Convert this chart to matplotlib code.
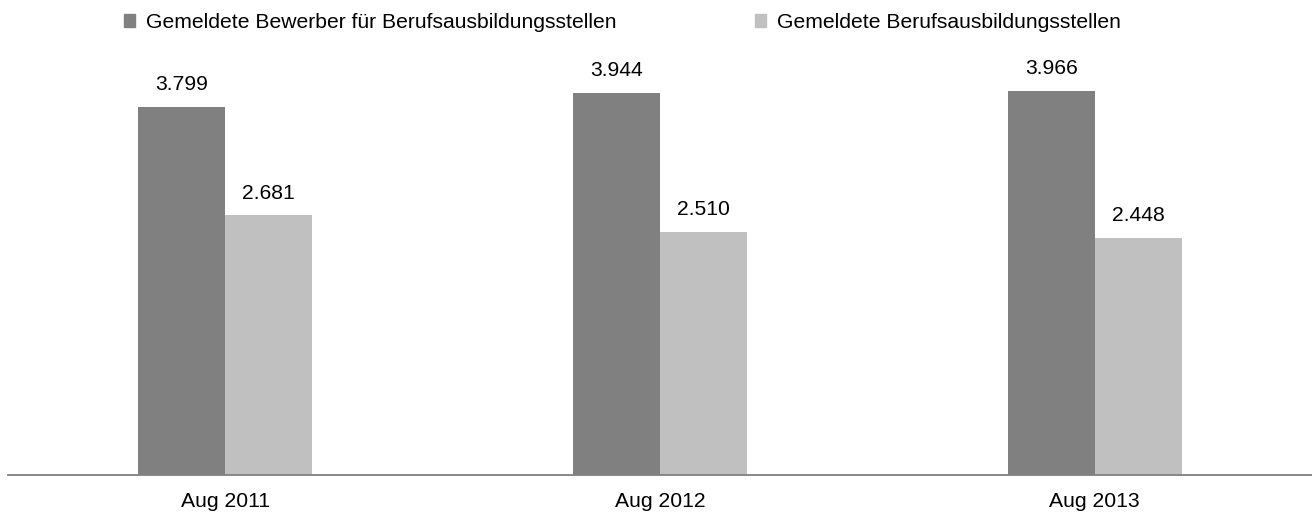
import matplotlib
matplotlib.use('agg')
import matplotlib.pyplot as plt
from matplotlib.patches import Patch
import numpy as np

# data
categories = ['Aug 2011', 'Aug 2012', 'Aug 2013']
bewerber = [3799, 3944, 3966]
stellen = [2681, 2510, 2448]
series_names = ['Gemeldete Bewerber für Berufsausbildungsstellen',
                'Gemeldete Berufsausbildungsstellen']

dark = '#808080'
light = '#c0c0c0'
fs = 15.2

plt.rcParams['font.family'] = ['Liberation Sans', 'DejaVu Sans']

fig = plt.figure(figsize=(13.12, 5.13), dpi=100)
ax = fig.add_axes([8 / 1312, 38 / 513, 1304 / 1312, 436 / 513])

x = np.arange(len(categories))
w = 0.2
b1 = ax.bar(x - w / 2, bewerber, w, color=dark)
b2 = ax.bar(x + w / 2, stellen, w, color=light)

def fmt(v):
  return '{:,}'.format(v).replace(',', '.')

for bars, vals in ((b1, bewerber), (b2, stellen)):
  for r, v in zip(bars, vals):
    ax.annotate(fmt(v), (r.get_x() + r.get_width() / 2, v), xytext=(0, 9),
                textcoords='offset points', ha='center', va='bottom', fontsize=fs)

ax.set_xlim(-0.5, 2.5)
ax.set_ylim(0, 4500)
ax.set_xticks(x)
ax.set_xticklabels(categories, fontsize=fs)
ax.tick_params(axis='x', length=0, pad=12)
ax.set_yticks([])
for s in ['top', 'right', 'left']:
  ax.spines[s].set_visible(False)
ax.spines['bottom'].set_color('#808080')
ax.spines['bottom'].set_linewidth(1.3)

handles = [Patch(color=dark), Patch(color=light)]
fig.legend(handles, series_names, loc='upper left', bbox_to_anchor=(111 / 1312, 1.0),
           ncol=2, frameon=False, fontsize=fs, handlelength=0.55, handleheight=0.55,
           handletextpad=0.5, columnspacing=6.55, borderaxespad=0.2)

fig.savefig('out.png', dpi=100)
